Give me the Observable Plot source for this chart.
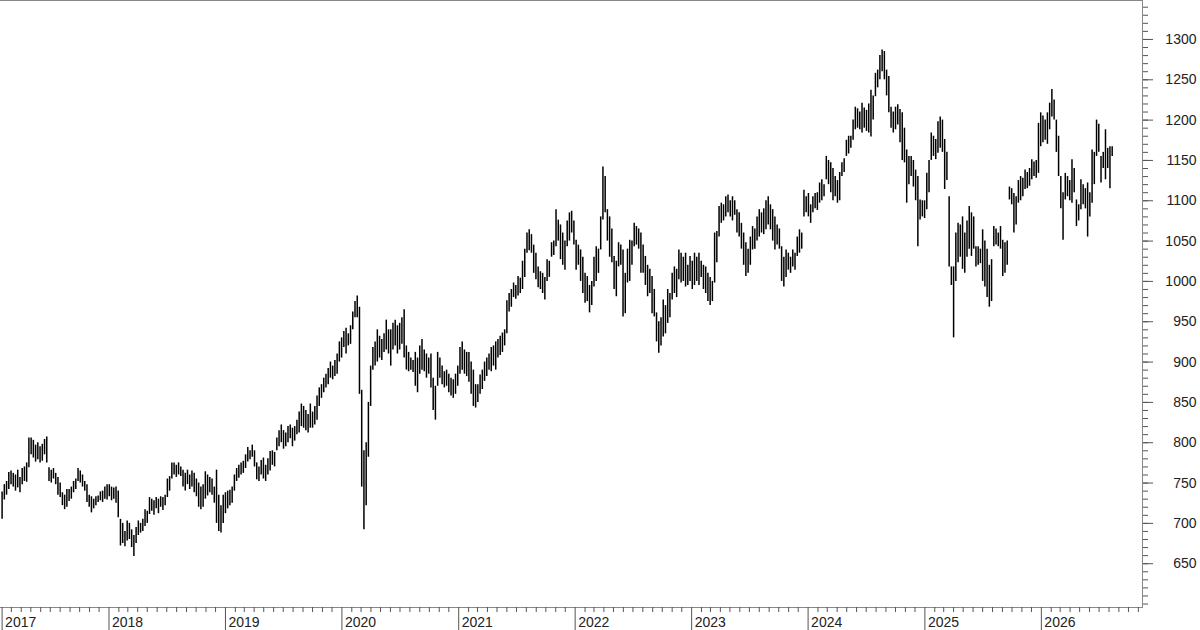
<!DOCTYPE html>
<html>
<head>
<meta charset="utf-8">
<script src="https://cdn.jsdelivr.net/npm/d3@7"></script>
<script src="https://cdn.jsdelivr.net/npm/@observablehq/plot@0.6"></script>
<style>
  body { margin: 0; background: #fff; }
</style>
</head>
<body>
<div id="chart"></div>
<script>
// weekly bars, [low, high], one week apart starting from firstWeek
const firstWeek = new Date(Date.UTC(2017, 0, 31));

const bars2017 = [[705,739],[729,748],[735,752],[742,763],[748,765],[745,762],[740,760],[744,766],[738,757],[748,768],[752,770],[751,775],[769,806],[785,806],[781,803],[776,797],[779,800],[775,795],[777,798],[785,804],[775,807],[752,769],[750,766],[755,768],[748,762],[735,757],[732,750],[722,738],[717,735],[720,742],[727,742],[730,745],[738,752],[742,755],[752,768],[750,765],[745,760],[740,752],[726,748],[720,735],[713,733],[718,730],[722,733],[726,734],[728,739],[726,740],[730,745],[729,748]];
const bars2018 = [[733,748],[728,745],[730,744],[725,745],[707,740],[672,705],[675,700],[671,690],[678,703],[680,700],[670,692],[659,685],[675,695],[685,703],[688,700],[690,705],[696,717],[700,715],[711,732],[715,730],[710,728],[718,732],[712,730],[720,733],[716,732],[722,735],[732,755],[740,758],[755,775],[760,775],[757,772],[760,775],[758,770],[745,766],[740,762],[748,766],[742,760],[745,765],[738,762],[733,755],[720,750],[717,745],[720,748],[730,764],[734,760],[738,757],[735,755],[725,745],[700,766],[690,735],[688,722]];
const bars2019 = [[700,735],[712,738],[718,740],[722,741],[725,745],[740,760],[752,768],[756,772],[760,775],[762,777],[768,785],[776,794],[779,790],[782,797],[770,790],[754,775],[752,770],[760,778],[755,781],[752,772],[760,780],[765,789],[772,790],[770,788],[790,806],[795,815],[800,822],[792,815],[795,812],[800,820],[805,822],[795,818],[802,820],[810,828],[812,838],[820,848],[818,845],[815,840],[812,835],[818,848],[818,838],[822,845],[828,858],[845,868],[855,872],[862,880],[868,885],[872,892],[880,900],[878,895],[882,902],[885,910]];
const bars2020 = [[900,925],[905,930],[918,938],[910,942],[920,935],[922,945],[940,962],[955,975],[955,982],[860,968],[745,865],[692,790],[722,800],[782,850],[845,895],[890,918],[895,925],[900,940],[905,932],[902,928],[912,935],[915,952],[910,940],[895,940],[915,948],[920,952],[910,945],[915,948],[922,955],[905,965],[890,920],[888,912],[890,905],[887,902],[870,912],[862,905],[885,920],[890,928],[888,915],[880,910],[885,905],[868,910],[840,880],[828,870],[870,912],[880,905],[872,895],[868,888],[870,890],[862,885],[858,880],[855,878]];
const bars2021 = [[860,885],[870,895],[885,918],[890,925],[885,915],[882,912],[875,912],[860,900],[845,890],[843,872],[850,872],[860,884],[866,890],[876,900],[882,905],[890,910],[888,918],[895,920],[890,925],[905,928],[908,932],[912,936],[920,940],[935,976],[962,985],[968,990],[980,998],[978,995],[982,1006],[985,1004],[990,1025],[1005,1040],[1035,1060],[1038,1064],[1035,1058],[1010,1045],[1002,1035],[992,1018],[990,1012],[985,1010],[977,1005],[1000,1027],[1005,1025],[1030,1048],[1032,1050],[1043,1089],[1050,1076],[1027,1070],[1020,1060],[1014,1050],[1043,1075],[1050,1085]];
const bars2022 = [[1060,1087],[1045,1075],[1014,1051],[1020,1045],[1000,1039],[985,1030],[973,1010],[975,1006],[961,995],[970,1000],[993,1030],[1000,1043],[1010,1040],[1039,1080],[1076,1142],[1085,1130],[1050,1089],[1030,1080],[1023,1065],[990,1031],[981,1025],[1018,1048],[1020,1045],[956,1039],[960,1010],[998,1040],[1000,1051],[1020,1050],[1043,1072],[1045,1068],[1040,1065],[1010,1060],[1010,1045],[995,1031],[981,1020],[985,1015],[960,1006],[956,990],[925,961],[911,950],[920,955],[931,977],[935,970],[948,990],[955,985],[977,1010],[985,1018],[980,1015],[1002,1039],[998,1035],[1000,1030],[993,1035]];
const bars2023 = [[995,1020],[1000,1031],[990,1025],[995,1035],[1000,1030],[995,1035],[1005,1025],[990,1020],[985,1018],[975,1010],[970,1005],[975,1000],[998,1060],[1023,1062],[1055,1093],[1072,1097],[1075,1095],[1080,1105],[1085,1107],[1080,1100],[1075,1105],[1082,1100],[1060,1089],[1055,1085],[1040,1072],[1020,1060],[1006,1048],[1010,1040],[1020,1055],[1039,1068],[1040,1065],[1050,1080],[1055,1089],[1060,1085],[1058,1090],[1064,1100],[1070,1105],[1064,1095],[1050,1089],[1039,1080],[1045,1070],[1040,1065],[1000,1043],[993,1030],[1005,1039],[1014,1035],[1010,1030],[1018,1039],[1014,1035],[1031,1055],[1035,1064],[1040,1060]];
const bars2024 = [[1080,1113],[1085,1105],[1080,1109],[1072,1095],[1085,1105],[1090,1109],[1088,1110],[1097,1122],[1100,1126],[1105,1120],[1126,1155],[1120,1150],[1110,1147],[1100,1140],[1105,1130],[1097,1125],[1100,1135],[1130,1147],[1135,1152],[1155,1175],[1158,1180],[1165,1180],[1175,1200],[1188,1216],[1190,1214],[1188,1210],[1184,1221],[1190,1215],[1186,1212],[1184,1220],[1179,1237],[1200,1230],[1229,1258],[1240,1262],[1250,1280],[1260,1287],[1250,1285],[1230,1262],[1209,1254],[1190,1216],[1184,1210],[1188,1216],[1194,1219],[1172,1213],[1150,1209],[1147,1190],[1097,1163],[1120,1155],[1130,1155],[1117,1150],[1100,1138],[1043,1130]];
const bars2025 = [[1076,1101],[1080,1100],[1078,1100],[1089,1134],[1110,1150],[1150,1184],[1155,1180],[1151,1176],[1159,1198],[1165,1204],[1160,1200],[1114,1176],[1125,1160],[1018,1105],[995,1018],[930,1018],[1000,1060],[1023,1072],[1030,1070],[1015,1080],[1010,1060],[1030,1075],[1040,1093],[1031,1085],[1040,1080],[1018,1043],[1020,1043],[1022,1040],[1000,1064],[993,1050],[980,1040],[968,1020],[975,1027],[1043,1068],[1045,1065],[1043,1060],[1040,1068],[1006,1051],[1010,1048],[1020,1050],[1101,1117],[1095,1115],[1060,1109],[1070,1105],[1097,1125],[1100,1130],[1105,1128],[1114,1138],[1115,1135],[1118,1140],[1126,1151],[1130,1148]];
const bars2026 = [[1128,1150],[1134,1196],[1167,1209],[1172,1205],[1175,1200],[1170,1209],[1188,1221],[1204,1238],[1200,1225],[1160,1200],[1130,1180],[1090,1130],[1051,1110],[1101,1134],[1105,1130],[1100,1125],[1097,1151],[1110,1140],[1068,1101],[1075,1095],[1089,1126],[1095,1120],[1090,1115],[1055,1122],[1080,1110],[1097,1163],[1120,1160],[1155,1200],[1160,1195],[1122,1155],[1140,1160],[1126,1188],[1140,1165],[1115,1167],[1155,1167]];

const yearLabels = [2017, 2018, 2019, 2020, 2021, 2022, 2023, 2024, 2025, 2026];
const priceTicks = d3.range(650, 1301, 50);
const minorPriceTicks = d3.range(600, 1341, 10);

const xStart = new Date(Date.UTC(2017, 0, 26));
const xEnd = new Date(Date.UTC(2026, 10, 14));

const weeks = [bars2017, bars2018, bars2019, bars2020, bars2021, bars2022, bars2023, bars2024, bars2025, bars2026]
    .flat()
    .map(([lo, hi], i) => ({ date: d3.utcDay.offset(firstWeek, 7 * i), lo, hi }));

// first label sits on the first bar, the others on Jan 1st
const yearTicks = yearLabels.map((y, i) => (i === 0 ? firstWeek : new Date(Date.UTC(y, 0, 1))));
const monthTicks = d3.utcMonth.range(new Date(Date.UTC(2017, 2, 1)), xEnd)
    .filter((d) => d.getUTCMonth() !== 0);

const chart = Plot.plot({
    width: 1200,
    height: 630,
    marginLeft: 0,
    marginRight: 58,
    marginTop: 0,
    marginBottom: 23,
    style: {
        fontFamily: "'Liberation Sans', Arial, sans-serif",
        fontSize: "14px",
        color: "#222",
        background: "#fff",
    },
    x: { type: "utc", domain: [xStart, xEnd] },
    y: { domain: [595.7, 1348.3] },
    marks: [
        Plot.frame({ anchor: "top", stroke: "#888" }),
        Plot.frame({ anchor: "right", stroke: "#888" }),
        Plot.frame({ anchor: "bottom", stroke: "#888" }),
        Plot.axisY({ anchor: "right", ticks: minorPriceTicks, tickSize: 5, text: null, label: null, stroke: "#555" }),
        Plot.axisY({
            anchor: "right",
            ticks: priceTicks,
            tickSize: 10,
            tickPadding: 44,
            tickFormat: (d) => String(d),
            textAnchor: "end",
            label: null,
            stroke: "#555",
            fill: "#222",
        }),
        Plot.axisX({ ticks: monthTicks, tickSize: 5, text: null, label: null, stroke: "#555" }),
        Plot.axisX({ ticks: yearTicks, tickSize: 23, text: null, label: null, stroke: "#555" }),
        Plot.text(yearTicks, {
            x: (d) => d,
            text: (d, i) => String(yearLabels[i]),
            frameAnchor: "bottom",
            textAnchor: "start",
            lineAnchor: "middle",
            dx: 3,
            dy: 15,
            fill: "#222",
        }),
        Plot.ruleX(weeks, { x: "date", y1: "lo", y2: "hi", stroke: "#000", strokeWidth: 1.5 }),
    ],
});

document.getElementById("chart").append(chart);
</script>
</body>
</html>
